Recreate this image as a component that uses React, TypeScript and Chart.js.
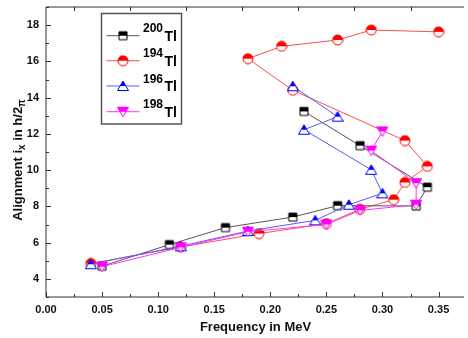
import React, { useEffect, useRef } from "react";
import { Chart, registerables } from "chart.js";

Chart.register(...registerables);

const xTicks = [0, 0.05, 0.1, 0.15, 0.2, 0.25, 0.3, 0.35];
const yTicks = [4, 6, 8, 10, 12, 14, 16, 18];

const tl200X = [0.05, 0.11, 0.16, 0.22, 0.26, 0.33, 0.34, 0.28, 0.23];
const tl200Y = [4.7, 5.89, 6.83, 7.41, 8.04, 8.02, 9.06, 11.35, 13.24];

const tl194X = [0.04, 0.12, 0.19, 0.25, 0.28, 0.31, 0.32, 0.34, 0.32, 0.22, 0.18, 0.21, 0.26, 0.29, 0.35];
const tl194Y = [4.85, 5.76, 6.5, 7.05, 7.84, 8.37, 9.32, 10.21, 11.63, 14.41, 16.15, 16.83, 17.18, 17.73, 17.63];

const tl196X = [0.04, 0.12, 0.18, 0.24, 0.27, 0.3, 0.29, 0.23, 0.26, 0.22];
const tl196Y = [4.81, 5.8, 6.64, 7.23, 8.09, 8.72, 10.02, 12.23, 12.95, 14.63];

const tl198X = [0.05, 0.12, 0.18, 0.25, 0.28, 0.33, 0.33, 0.29, 0.3];
const tl198Y = [4.67, 5.74, 6.6, 7.0, 7.78, 8.09, 9.28, 11.08, 12.14];

const seriesMass = ["200", "194", "196", "198"];
const elementLabel = "Tl";

const FONT = "'Liberation Sans', Arial, sans-serif";

function makeMarker(shape: string, color: string): HTMLCanvasElement {
  const size = 12;
  const c = document.createElement("canvas");
  c.width = size;
  c.height = size;
  const ctx = c.getContext("2d")!;
  const cx = size / 2;
  const cy = size / 2;
  const path = () => {
    ctx.beginPath();
    if (shape === "square") {
      ctx.rect(cx - 4, cy - 4, 8, 8);
    } else if (shape === "circle") {
      ctx.arc(cx, cy, 5, 0, Math.PI * 2);
    } else if (shape === "up") {
      ctx.moveTo(cx, cy - 5);
      ctx.lineTo(cx + 5.5, cy + 4.5);
      ctx.lineTo(cx - 5.5, cy + 4.5);
      ctx.closePath();
    } else {
      ctx.moveTo(cx - 5.5, cy - 4.5);
      ctx.lineTo(cx + 5.5, cy - 4.5);
      ctx.lineTo(cx, cy + 5);
      ctx.closePath();
    }
  };
  path();
  ctx.fillStyle = "#ffffff";
  ctx.fill();
  ctx.save();
  path();
  ctx.clip();
  ctx.fillStyle = color;
  ctx.fillRect(0, 0, size, cy);
  ctx.restore();
  path();
  ctx.strokeStyle = color;
  ctx.lineWidth = 1;
  ctx.stroke();
  return c;
}

function pts(xs: number[], ys: number[]) {
  return xs.map((x, i) => ({ x, y: ys[i] }));
}

export default function App() {
  const ref = useRef<HTMLCanvasElement | null>(null);

  useEffect(() => {
    if (!ref.current) return;
    const markers = [
      makeMarker("square", "#000000"),
      makeMarker("circle", "#ff0000"),
      makeMarker("up", "#0000ff"),
      makeMarker("down", "#ff00ff"),
    ];
    const lineColors = ["#555555", "#ff4d4d", "#5959ff", "#ff33ff"];

    const framePlugin = {
      id: "frame",
      beforeDatasetsDraw(chart: any) {
        const { ctx, chartArea } = chart;
        const xs = chart.scales.x;
        const ys = chart.scales.y;
        const { left, right, top, bottom } = chartArea;
        ctx.save();
        ctx.strokeStyle = "#333333";
        ctx.lineWidth = 1;
        ctx.beginPath();
        ctx.moveTo(left, top);
        ctx.lineTo(right + 3, top);
        ctx.moveTo(left, top);
        ctx.lineTo(left, bottom);
        ctx.lineTo(right + 3, bottom);
        ctx.stroke();
        ctx.beginPath();
        for (let k = 0; k <= 15; k++) {
          const v = k * 0.025;
          const px = Math.round(xs.getPixelForValue(v)) + 0.5;
          if (px > right + 2) continue;
          const major = k % 2 === 0;
          ctx.moveTo(px, bottom);
          ctx.lineTo(px, bottom - (major ? 5 : 3));
          if (!major) {
            ctx.moveTo(px, top);
            ctx.lineTo(px, top + 4);
          }
        }
        for (let v = 3; v <= 19; v++) {
          const py = Math.round(ys.getPixelForValue(v)) + 0.5;
          const major = v % 2 === 0;
          ctx.moveTo(left, py);
          ctx.lineTo(left + (major ? 5 : 3), py);
        }
        ctx.stroke();
        ctx.restore();
      },
      afterDraw(chart: any) {
        const { ctx, chartArea } = chart;
        ctx.save();
        // x axis title
        ctx.fillStyle = "#111111";
        ctx.font = `bold 13px ${FONT}`;
        ctx.textAlign = "center";
        ctx.textBaseline = "alphabetic";
        ctx.fillText("Frequency in MeV", (chartArea.left + chartArea.right) / 2 + 2, 331);

        // y axis title (rotated, with subscripts)
        const parts: [string, boolean][] = [
          ["Alignment i", false],
          ["x", true],
          [" in h/2", false],
          ["\u03c0", true],
        ];
        const bigFont = `bold 13px ${FONT}`;
        const smallFont = `bold 10px ${FONT}`;
        let total = 0;
        for (const [t, sub] of parts) {
          ctx.font = sub ? smallFont : bigFont;
          total += ctx.measureText(t).width;
        }
        ctx.translate(22, 160);
        ctx.rotate(-Math.PI / 2);
        ctx.textAlign = "left";
        let cx = -total / 2;
        for (const [t, sub] of parts) {
          ctx.font = sub ? smallFont : bigFont;
          ctx.fillText(t, cx, sub ? 3 : 0);
          cx += ctx.measureText(t).width;
        }
        ctx.restore();

        // legend
        ctx.save();
        ctx.strokeStyle = "#555555";
        ctx.lineWidth = 1.5;
        ctx.strokeRect(101.5, 13.5, 80, 110.5);
        const rows = [35.7, 60.7, 86, 111.7];
        rows.forEach((ry, i) => {
          ctx.strokeStyle = lineColors[i];
          ctx.lineWidth = 1;
          ctx.beginPath();
          ctx.moveTo(106.5, ry);
          ctx.lineTo(139.5, ry);
          ctx.stroke();
          ctx.drawImage(markers[i], 123 - 6, ry - 6);
          ctx.fillStyle = "#000000";
          ctx.textAlign = "left";
          ctx.textBaseline = "alphabetic";
          ctx.font = `bold 12px ${FONT}`;
          ctx.fillText(seriesMass[i], 143, ry - 3.5);
          ctx.font = `bold 14px ${FONT}`;
          ctx.fillText(elementLabel, 164.5, ry + 5);
        });
        ctx.restore();
      },
    };

    const xs = [tl200X, tl194X, tl196X, tl198X];
    const ysArr = [tl200Y, tl194Y, tl196Y, tl198Y];
    const orders = [2, 3, 1, 0];

    const chart = new Chart(ref.current, {
      type: "scatter",
      data: {
        datasets: xs.map((xArr, i) => ({
          label: seriesMass[i] + elementLabel,
          data: pts(xArr, ysArr[i]),
          showLine: true,
          borderColor: lineColors[i],
          borderWidth: 1,
          pointStyle: markers[i] as any,
          pointRadius: 6,
          order: orders[i],
          tension: 0,
        })),
      },
      options: {
        animation: false,
        responsive: false,
        maintainAspectRatio: false,
        layout: { padding: { top: 5, right: 3, left: 0, bottom: 0 } },
        plugins: {
          legend: { display: false },
          tooltip: { enabled: false },
        },
        scales: {
          x: {
            type: "linear",
            min: 0,
            max: 0.37,
            grid: { display: false, drawTicks: false },
            border: { display: false },
            afterFit: (s: any) => {
              s.height = 41;
              s.paddingLeft = 0;
              s.paddingRight = 0;
            },
            afterBuildTicks: (s: any) => {
              s.ticks = xTicks.map((v) => ({ value: v }));
            },
            ticks: {
              padding: 6,
              color: "#111111",
              maxRotation: 0,
              autoSkip: false,
              font: { family: FONT, size: 11, weight: "bold" },
              callback: (v: any) => Number(v).toFixed(2),
            },
          },
          y: {
            type: "linear",
            min: 3,
            max: 19,
            grid: { display: false, drawTicks: false },
            border: { display: false },
            afterFit: (s: any) => {
              s.width = 46;
              s.paddingTop = 0;
              s.paddingBottom = 0;
            },
            afterBuildTicks: (s: any) => {
              s.ticks = yTicks.map((v) => ({ value: v }));
            },
            ticks: {
              padding: 7,
              color: "#111111",
              autoSkip: false,
              font: { family: FONT, size: 11, weight: "bold" },
              callback: (v: any) => String(v),
            },
          },
        },
      },
      plugins: [framePlugin],
    } as any);
    return () => chart.destroy();
  }, []);

  return (
    <div style={{ position: "absolute", left: 0, top: 0, width: 468, height: 338, background: "#fff" }}>
      <canvas ref={ref} width={468} height={338} style={{ width: 468, height: 338 }} />
    </div>
  );
}
